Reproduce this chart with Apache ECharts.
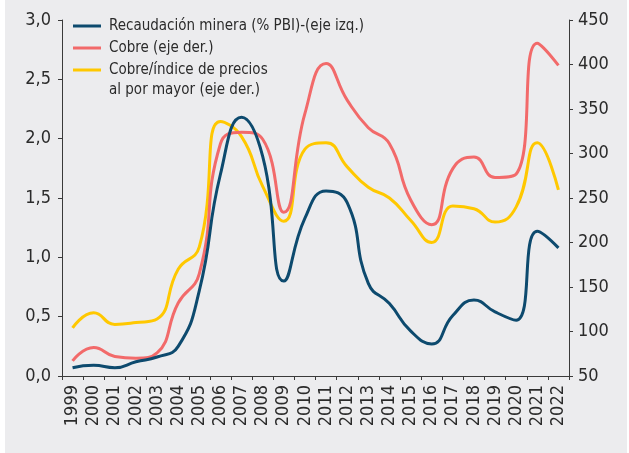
<!DOCTYPE html>
<html>
<head>
<meta charset="utf-8">
<script src="https://cdn.jsdelivr.net/npm/echarts@6/dist/echarts.min.js"></script>
<style>
  html, body { margin: 0; padding: 0; background: #fff; }
  #chart {
    width: 629px; height: 453px;
    background: linear-gradient(to right, #fff 5px, #ececee 5px, #ececee 627px, #fff 627px);
  }
</style>
</head>
<body>
<div id="chart"></div>
<script>
// años
var years = ['1999','2000','2001','2002','2003','2004','2005','2006','2007','2008','2009','2010',
             '2011','2012','2013','2014','2015','2016','2017','2018','2019','2020','2021','2022'];
// Recaudación minera (% PBI), eje izq.
var recaudacion = [0.07,0.09,0.07,0.12,0.16,0.25,0.72,1.7,2.18,1.85,0.8,1.33,
                   1.56,1.46,0.78,0.61,0.38,0.27,0.51,0.64,0.54,0.47,1.22,1.08];
// Cobre, eje der.
var cobre = [67,82,72,70,76,132,165,311,324,316,234,345,
             401,360,329,311,248,220,283,296,273,277,424,399];
// Cobre / índice de precios al por mayor, eje der.
var cobreIpm = [104,121,108,110,114,170,195,336,319,263,224,305,
                312,285,262,250,225,200,241,238,223,240,312,259];

var leftTicks = { min: 0, max: 3, interval: 0.5 };
var rightTicks = { min: 50, max: 450, interval: 50 };

var font = '"Liberation Sans Narrow", "DejaVu Sans Condensed", "Roboto", sans-serif';
var txt = '#2b2b2b';
var axisCol = '#3a3a3a';

var chart = echarts.init(document.getElementById('chart'));
var option = {
  backgroundColor: 'transparent',
  textStyle: { fontFamily: font },
  grid: { left: 62, right: 60, top: 20, bottom: 77 },
  legend: {
    orient: 'vertical',
    left: 73,
    top: 15,
    padding: 0,
    itemWidth: 28,
    itemHeight: 3,
    itemGap: 0,
    icon: 'rect',
    textStyle: { fontFamily: font, fontSize: 15, color: txt, lineHeight: 22, padding: [0, 0, 0, 3] },
    data: ['Recaudación minera (% PBI)-(eje izq.)', 'Cobre (eje der.)', 'Cobre/índice de precios']
  },
  graphic: [{
    type: 'text',
    left: 109,
    top: 83,
    style: { text: 'al por mayor (eje der.)', font: '15px ' + font, fill: txt }
  }],
  xAxis: {
    type: 'category',
    data: years,
    boundaryGap: true,
    axisLine: { lineStyle: { color: axisCol, width: 1 } },
    axisTick: { show: true, length: 4, lineStyle: { color: axisCol } },
    axisLabel: { rotate: 90, interval: 0, margin: 9, fontSize: 18, color: txt, fontFamily: font }
  },
  yAxis: [{
    type: 'value',
    position: 'left',
    min: leftTicks.min, max: leftTicks.max, interval: leftTicks.interval,
    splitLine: { show: false },
    axisLine: { show: true, lineStyle: { color: axisCol, width: 1 } },
    axisTick: { show: true, length: 4, lineStyle: { color: axisCol } },
    axisLabel: {
      margin: 11, fontSize: 18, color: txt, fontFamily: font,
      formatter: function (v) { return v.toFixed(1).replace('.', ','); }
    }
  }, {
    type: 'value',
    position: 'right',
    min: rightTicks.min, max: rightTicks.max, interval: rightTicks.interval,
    splitLine: { show: false },
    axisLine: { show: true, lineStyle: { color: axisCol, width: 1 } },
    axisTick: { show: true, length: 4, lineStyle: { color: axisCol } },
    axisLabel: { margin: 9, fontSize: 18, color: txt, fontFamily: font }
  }],
  series: [{
    name: 'Recaudación minera (% PBI)-(eje izq.)',
    type: 'line',
    yAxisIndex: 0,
    smooth: 0.5,
    symbol: 'none',
    z: 3,
    lineStyle: { color: '#0d4a6e', width: 3 },
    itemStyle: { color: '#0d4a6e' },
    data: recaudacion
  }, {
    name: 'Cobre (eje der.)',
    type: 'line',
    yAxisIndex: 1,
    smooth: 0.5,
    symbol: 'none',
    z: 2,
    lineStyle: { color: '#f26a6a', width: 3 },
    itemStyle: { color: '#f26a6a' },
    data: cobre
  }, {
    name: 'Cobre/índice de precios',
    type: 'line',
    yAxisIndex: 1,
    smooth: 0.5,
    symbol: 'none',
    z: 1,
    lineStyle: { color: '#ffc800', width: 3 },
    itemStyle: { color: '#ffc800' },
    data: cobreIpm
  }]
};
chart.setOption(option);
</script>
</body>
</html>
